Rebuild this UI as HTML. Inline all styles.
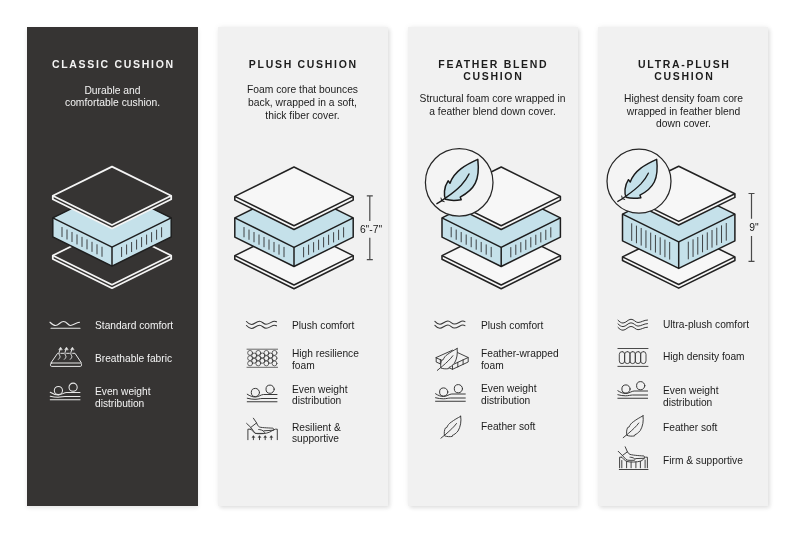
<!DOCTYPE html>
<html><head><meta charset="utf-8">
<style>
html,body{margin:0;padding:0;background:#fff;}
body{width:800px;height:534px;position:relative;overflow:hidden;font-family:"Liberation Sans",sans-serif;}
.p{position:absolute;top:27px;width:171px;height:479px;}
.dark{background:#363433;box-shadow:0 2px 4px rgba(0,0,0,0.10);}
.light{width:170px;background:#f1f1f1;box-shadow:0 0 6px rgba(0,0,0,0.06),2px 2px 4px rgba(0,0,0,0.10);}
.t{position:absolute;width:171px;text-align:center;font-weight:bold;font-size:10.5px;line-height:12px;letter-spacing:1.7px;text-indent:1.7px;white-space:nowrap;}
.d{position:absolute;width:171px;text-align:center;font-size:10.3px;line-height:12.5px;white-space:nowrap;}
.f{position:absolute;font-size:10.2px;line-height:12.5px;white-space:nowrap;}
.m{position:absolute;text-align:center;font-size:10.3px;line-height:12px;color:#1a1a1a;white-space:nowrap;}
svg{position:absolute;left:0;top:0;}
.t,.d,.f,.m{will-change:transform;}
</style></head><body>
<div class="p dark" style="left:27px"></div><div class="p light" style="left:218px"></div><div class="p light" style="left:407.75px"></div><div class="p light" style="left:598px"></div>
<svg width="800" height="534" viewBox="0 0 800 534">
<polygon points="112,226.3 171.2,255.5 171.2,259 112,288.2 52.8,259 52.8,255.5" fill="#363433" stroke="#f5f5f5" stroke-width="1.8" stroke-linejoin="round"/><polyline points="52.8,255.5 112,284.7 171.2,255.5" fill="none" stroke="#f5f5f5" stroke-width="1.8" stroke-linejoin="round"/><polygon points="112,188.7 171.2,217.9 171.2,236.9 112,266.1 52.8,236.9 52.8,217.9" fill="#c5e1ea" stroke="#1e1e1e" stroke-width="1.5" stroke-linejoin="round"/><polyline points="52.8,217.9 112,247.1 171.2,217.9" fill="none" stroke="#1e1e1e" stroke-width="1.5" stroke-linejoin="round"/><line x1="112" y1="247.1" x2="112" y2="266.1" stroke="#1e1e1e" stroke-width="1.5"/><path d="M62 227.04V237.04 M121.6 246.96V256.96 M67 229.5V239.5 M126.6 244.5V254.5 M72 231.97V241.97 M131.6 242.03V252.03 M77 234.44V244.44 M136.6 239.57V249.57 M82 236.9V246.9 M141.6 237.1V247.1 M87 239.37V249.37 M146.6 234.63V244.63 M92 241.84V251.84 M151.6 232.17V242.17 M97 244.3V254.3 M156.6 229.7V239.7 M102 246.77V256.77 M161.6 227.24V237.24" stroke="#3e4244" stroke-width="1" fill="none"/><polygon points="112,166.6 171.2,195.8 171.2,199.3 112,228.5 52.8,199.3 52.8,195.8" fill="#363433" stroke="#f5f5f5" stroke-width="1.8" stroke-linejoin="round"/><polyline points="52.8,195.8 112,225 171.2,195.8" fill="none" stroke="#f5f5f5" stroke-width="1.8" stroke-linejoin="round"/><polygon points="294,226.2 353.2,255.6 353.2,259.3 294,288.7 234.8,259.3 234.8,255.6" fill="#f7f7f7" stroke="#222222" stroke-width="1.55" stroke-linejoin="round"/><polyline points="234.8,255.6 294,285 353.2,255.6" fill="none" stroke="#222222" stroke-width="1.55" stroke-linejoin="round"/><polygon points="294,188.5 353.2,217.9 353.2,237.1 294,266.5 234.8,237.1 234.8,217.9" fill="#c5e1ea" stroke="#1e1e1e" stroke-width="1.5" stroke-linejoin="round"/><polyline points="234.8,217.9 294,247.3 353.2,217.9" fill="none" stroke="#1e1e1e" stroke-width="1.5" stroke-linejoin="round"/><line x1="294" y1="247.3" x2="294" y2="266.5" stroke="#1e1e1e" stroke-width="1.5"/><path d="M244 227.07V237.27 M303.6 247.13V257.33 M249 229.55V239.75 M308.6 244.65V254.85 M254 232.04V242.24 M313.6 242.17V252.37 M259 234.52V244.72 M318.6 239.68V249.88 M264 237V247.2 M323.6 237.2V247.4 M269 239.48V249.68 M328.6 234.72V244.92 M274 241.97V252.17 M333.6 232.23V242.43 M279 244.45V254.65 M338.6 229.75V239.95 M284 246.93V257.13 M343.6 227.27V237.47" stroke="#3e4244" stroke-width="1" fill="none"/><polygon points="294,167 353.2,196.4 353.2,200.1 294,229.5 234.8,200.1 234.8,196.4" fill="#f7f7f7" stroke="#222222" stroke-width="1.55" stroke-linejoin="round"/><polyline points="234.8,196.4 294,225.8 353.2,196.4" fill="none" stroke="#222222" stroke-width="1.55" stroke-linejoin="round"/><path d="M366.8 195.9H372.8M369.8 195.9V220.9M369.8 237.8V259.6M366.8 259.6H372.8" stroke="#4a4a4a" stroke-width="1.2" fill="none"/><polygon points="501.2,226.2 560.4,255.6 560.4,259.3 501.2,288.7 442,259.3 442,255.6" fill="#f7f7f7" stroke="#222222" stroke-width="1.55" stroke-linejoin="round"/><polyline points="442,255.6 501.2,285 560.4,255.6" fill="none" stroke="#222222" stroke-width="1.55" stroke-linejoin="round"/><polygon points="501.2,188.5 560.4,217.9 560.4,237.1 501.2,266.5 442,237.1 442,217.9" fill="#c5e1ea" stroke="#1e1e1e" stroke-width="1.5" stroke-linejoin="round"/><polyline points="442,217.9 501.2,247.3 560.4,217.9" fill="none" stroke="#1e1e1e" stroke-width="1.5" stroke-linejoin="round"/><line x1="501.2" y1="247.3" x2="501.2" y2="266.5" stroke="#1e1e1e" stroke-width="1.5"/><path d="M451.2 227.07V237.27 M510.8 247.13V257.33 M456.2 229.55V239.75 M515.8 244.65V254.85 M461.2 232.04V242.24 M520.8 242.17V252.37 M466.2 234.52V244.72 M525.8 239.68V249.88 M471.2 237V247.2 M530.8 237.2V247.4 M476.2 239.48V249.68 M535.8 234.72V244.92 M481.2 241.97V252.17 M540.8 232.23V242.43 M486.2 244.45V254.65 M545.8 229.75V239.95 M491.2 246.93V257.13 M550.8 227.27V237.47" stroke="#3e4244" stroke-width="1" fill="none"/><polygon points="501.2,167 560.4,196.4 560.4,200.1 501.2,229.5 442,200.1 442,196.4" fill="#f7f7f7" stroke="#222222" stroke-width="1.55" stroke-linejoin="round"/><polyline points="442,196.4 501.2,225.8 560.4,196.4" fill="none" stroke="#222222" stroke-width="1.55" stroke-linejoin="round"/><circle cx="459.2" cy="182.4" r="33.8" fill="#f4f4f4" stroke="#262626" stroke-width="1.25"/><g transform="translate(459.2 182.4) scale(1.0)"><path d="M18.6 -23 C19.5 -15 19 -5 16.1 0.8 C13.5 6 9 10.5 1 14.7 L2 17.4 C-2 18 -9 18.3 -13.6 16.9 C-15.5 13 -15.5 5 -11.1 -1.6 L-9.2 0.8 C-7.5 -4 -3 -10 2 -13.8 C7 -17.5 13 -20.5 18.6 -23 Z" fill="#c5e1ea" stroke="#1a1a1a" stroke-width="1.5" stroke-linejoin="round"/><path d="M-22.3 21.3 C-20 20 -17.5 18.4 -13.5 15.5 C-7 11 -2 7 2 2.8 C5 -0.5 8 -4.5 9.8 -8.4" fill="none" stroke="#1a1a1a" stroke-width="1.4" stroke-linecap="round"/><path d="M-17.5 18.4 L-18.2 15.6 M-17.5 18.4 L-15 19.2" fill="none" stroke="#1a1a1a" stroke-width="1" stroke-linecap="round"/></g><polygon points="678.7,229.3 734.9,256.9 734.9,260.5 678.7,288.1 622.5,260.5 622.5,256.9" fill="#f7f7f7" stroke="#222222" stroke-width="1.55" stroke-linejoin="round"/><polyline points="622.5,256.9 678.7,284.5 734.9,256.9" fill="none" stroke="#222222" stroke-width="1.55" stroke-linejoin="round"/><polygon points="678.7,186.6 734.9,214.2 734.9,240.8 678.7,268.4 622.5,240.8 622.5,214.2" fill="#c5e1ea" stroke="#1e1e1e" stroke-width="1.5" stroke-linejoin="round"/><polyline points="622.5,214.2 678.7,241.8 734.9,214.2" fill="none" stroke="#1e1e1e" stroke-width="1.5" stroke-linejoin="round"/><line x1="678.7" y1="241.8" x2="678.7" y2="268.4" stroke="#1e1e1e" stroke-width="1.5"/><path d="M631.7 223.32V240.92 M688.3 241.69V259.29 M636.45 225.65V243.25 M693.05 239.35V256.95 M641.19 227.98V245.58 M697.79 237.02V254.62 M645.94 230.31V247.91 M702.54 234.69V252.29 M650.69 232.64V250.24 M707.29 232.36V249.96 M655.43 234.97V252.57 M712.03 230.03V247.63 M660.18 237.3V254.9 M716.78 227.7V245.3 M664.93 239.64V257.24 M721.53 225.37V242.97 M669.67 241.97V259.57 M726.27 223.04V240.64" stroke="#3e4244" stroke-width="1" fill="none"/><polygon points="678.7,166.2 734.9,193.8 734.9,197.4 678.7,225 622.5,197.4 622.5,193.8" fill="#f7f7f7" stroke="#222222" stroke-width="1.55" stroke-linejoin="round"/><polyline points="622.5,193.8 678.7,221.4 734.9,193.8" fill="none" stroke="#222222" stroke-width="1.55" stroke-linejoin="round"/><path d="M748.5 193.5H754.5M751.5 193.5V218.7M751.5 235.9V261.3M748.5 261.3H754.5" stroke="#4a4a4a" stroke-width="1.2" fill="none"/><circle cx="639" cy="181.2" r="32" fill="#f4f4f4" stroke="#262626" stroke-width="1.25"/><g transform="translate(639 181.2) scale(0.95)"><path d="M18.6 -23 C19.5 -15 19 -5 16.1 0.8 C13.5 6 9 10.5 1 14.7 L2 17.4 C-2 18 -9 18.3 -13.6 16.9 C-15.5 13 -15.5 5 -11.1 -1.6 L-9.2 0.8 C-7.5 -4 -3 -10 2 -13.8 C7 -17.5 13 -20.5 18.6 -23 Z" fill="#c5e1ea" stroke="#1a1a1a" stroke-width="1.5" stroke-linejoin="round"/><path d="M-22.3 21.3 C-20 20 -17.5 18.4 -13.5 15.5 C-7 11 -2 7 2 2.8 C5 -0.5 8 -4.5 9.8 -8.4" fill="none" stroke="#1a1a1a" stroke-width="1.4" stroke-linecap="round"/><path d="M-17.5 18.4 L-18.2 15.6 M-17.5 18.4 L-15 19.2" fill="none" stroke="#1a1a1a" stroke-width="1" stroke-linecap="round"/></g><g transform="translate(50 321)" fill="none" stroke="#e8e8e8" stroke-width="1.1" stroke-linecap="round" stroke-linejoin="round"><path d="M0 1.25 C2 3.3 3.5 4.5 5.5 4.5 C9 4.5 10 0.5 13.5 0.5 C17 0.5 18 4.5 20.5 4.5 C23 4.5 26 1.7 29.5 1.25"/><path d="M1 7.25 H30"/></g><g transform="translate(50 346)" fill="none" stroke="#e8e8e8" stroke-width="1.0" stroke-linecap="round" stroke-linejoin="round"><rect x="0.5" y="17" width="31" height="3.4" rx="1.2"/><path d="M1 16.8 L7.6 7.3 H8.3 M10.8 7.3 H13.6 M16.6 7.3 H19.4 M22.6 7.3 H25 L31.2 16.6"/><g transform="translate(0 0)"><path d="M8.5 13.3 C9.8 12 10.6 10.8 9.6 9.3 C8.6 7.8 8.8 6.5 10.4 2.8"/><path d="M9 3.4 L10.6 1.2 L12.1 3.6 Z" fill="#e8e8e8" stroke-width="0.6"/></g><g transform="translate(5.9 0)"><path d="M8.5 13.3 C9.8 12 10.6 10.8 9.6 9.3 C8.6 7.8 8.8 6.5 10.4 2.8"/><path d="M9 3.4 L10.6 1.2 L12.1 3.6 Z" fill="#e8e8e8" stroke-width="0.6"/></g><g transform="translate(11.8 0)"><path d="M8.5 13.3 C9.8 12 10.6 10.8 9.6 9.3 C8.6 7.8 8.8 6.5 10.4 2.8"/><path d="M9 3.4 L10.6 1.2 L12.1 3.6 Z" fill="#e8e8e8" stroke-width="0.6"/></g></g><g transform="translate(50 382)" fill="none" stroke="#e8e8e8" stroke-width="1.05" stroke-linecap="round" stroke-linejoin="round"><circle cx="8.4" cy="8.5" r="4.1"/><circle cx="23.1" cy="5.2" r="4.1"/><path d="M0.25 10.25 C3 12 5.5 13 8.25 13 C11.5 13 14 10.5 16.5 10.5 H30"/><path d="M0.25 14.25 C3 15 5.5 15.3 8 15.3 C11 15.3 13 14.5 15 14.5 H30"/><path d="M0.25 17.75 H30"/></g><g transform="translate(246.8 321.5)" fill="none" stroke="#383838" stroke-width="1.1" stroke-linecap="round" stroke-linejoin="round"><path d="M-0.3 0 C1.5 2 3 3 4.7 3 C7.5 3 9.5 -0.25 12.7 -0.25 C15.5 -0.25 16.5 2.75 19.2 2.75 C22.5 2.75 25 -0.25 27.7 -0.25 C28.5 -0.25 29.2 0 29.7 0.3"/><path d="M-0.3 4 C1.5 6 3 7 4.7 7 C7.5 7 9.5 3.75 12.7 3.75 C15.5 3.75 16.5 6.75 19.2 6.75 C22.5 6.75 25 3.75 27.7 3.75 C28.5 3.75 29.2 4 29.7 4.3"/></g><g transform="translate(247 348)" fill="none" stroke="#383838" stroke-width="0.75" stroke-linecap="round" stroke-linejoin="round"><path d="M0 1.2 H30.6 M0 19.3 H30.6"/><circle cx="3.1" cy="4.9" r="2.45"/><circle cx="3.1" cy="10.15" r="2.45"/><circle cx="3.1" cy="15.4" r="2.45"/><circle cx="11.3" cy="4.9" r="2.45"/><circle cx="11.3" cy="10.15" r="2.45"/><circle cx="11.3" cy="15.4" r="2.45"/><circle cx="19.4" cy="4.9" r="2.45"/><circle cx="19.4" cy="10.15" r="2.45"/><circle cx="19.4" cy="15.4" r="2.45"/><circle cx="27.5" cy="4.9" r="2.45"/><circle cx="27.5" cy="10.15" r="2.45"/><circle cx="27.5" cy="15.4" r="2.45"/><circle cx="7.2" cy="7.5" r="2.45"/><circle cx="7.2" cy="12.8" r="2.45"/><circle cx="15.35" cy="7.5" r="2.45"/><circle cx="15.35" cy="12.8" r="2.45"/><circle cx="23.45" cy="7.5" r="2.45"/><circle cx="23.45" cy="12.8" r="2.45"/></g><g transform="translate(247 384)" fill="none" stroke="#383838" stroke-width="1.0" stroke-linecap="round" stroke-linejoin="round"><circle cx="8.4" cy="8.5" r="4.1"/><circle cx="23.1" cy="5.2" r="4.1"/><path d="M0.25 10.25 C3 12 5.5 13 8.25 13 C11.5 13 14 10.5 16.5 10.5 H30"/><path d="M0.25 14.25 C3 15 5.5 15.3 8 15.3 C11 15.3 13 14.5 15 14.5 H30"/><path d="M0.25 17.75 H30"/></g><g transform="translate(246 417)" fill="none" stroke="#383838" stroke-width="0.95" stroke-linecap="round" stroke-linejoin="round"><path d="M0.6 6.4 L4.8 10.4 L8 14.8 C8.5 16 9 16.4 10 16.4 H17.4 C18.5 16.4 18.8 15.4 18.2 15 C17 13 14 12.5 12.7 12.5"/><path d="M7.4 1.2 L10.6 5.9 C11 7 12 9.5 13.7 10.1 C16 10.8 25 11 26.8 11.2 C28 11.7 28 13 27.5 13.2 L17.9 13.8"/><path d="M4.8 10.4 L10.6 5.9"/><path d="M1.9 22.7 V12.2 H4.3 M27.1 13.2 L29.4 12.2 H31.3 V22.7"/><path d="M4.3 12.2 C6 12.5 7 14.5 8.5 15.8 C10 16.8 12 16.8 17.4 16.6 C22 16.3 25 14.5 27.1 13.2"/><path d="M7.4 22.7 V19.8"/><path d="M6.2 20.2 L7.4 18.6 L8.6 20.2 Z" fill="#383838" stroke-width="0.5"/><path d="M13.5 22.7 V19.8"/><path d="M12.3 20.2 L13.5 18.6 L14.7 20.2 Z" fill="#383838" stroke-width="0.5"/><path d="M19.2 22.7 V19.8"/><path d="M18.0 20.2 L19.2 18.6 L20.4 20.2 Z" fill="#383838" stroke-width="0.5"/><path d="M25.3 22.7 V19.8"/><path d="M24.1 20.2 L25.3 18.6 L26.5 20.2 Z" fill="#383838" stroke-width="0.5"/></g><g transform="translate(435.2 321.3)" fill="none" stroke="#383838" stroke-width="1.1" stroke-linecap="round" stroke-linejoin="round"><path d="M-0.3 0 C1.5 2 3 3 4.7 3 C7.5 3 9.5 -0.25 12.7 -0.25 C15.5 -0.25 16.5 2.75 19.2 2.75 C22.5 2.75 25 -0.25 27.7 -0.25 C28.5 -0.25 29.2 0 29.7 0.3"/><path d="M-0.3 4 C1.5 6 3 7 4.7 7 C7.5 7 9.5 3.75 12.7 3.75 C15.5 3.75 16.5 6.75 19.2 6.75 C22.5 6.75 25 3.75 27.7 3.75 C28.5 3.75 29.2 4 29.7 4.3"/></g><g transform="translate(0 0)" fill="none" stroke="#383838" stroke-width="0.95" stroke-linecap="round" stroke-linejoin="round"><path d="M436.2 357.5 L452.5 350.2 L468.2 357.5 L452.5 364.8 Z" fill="#f1f1f1"/><path d="M436.2 357.5 V362 L452.5 369.3 L468.2 362 V357.5 M452.5 364.8 V369.3 M440.4 359.4 V363.9 M457.8 362.3 V367 M463.1 359.8 V364.5"/></g><g transform="translate(436.4 347.2)" fill="none" stroke="#383838" stroke-width="0.95" stroke-linecap="round" stroke-linejoin="round"><path d="M20.7 1.3 C21.5 6 20.5 12 18 16 C16 18.5 14 19.8 12.6 20.2 L12.3 21.4 C10 21.8 7 21.8 4.5 20.8 C4 18 4.3 15 5.4 13 L6.9 12.4 C7.5 10.5 9 8.5 11.4 7 C14 5 17.5 3 20.7 1.3 Z" fill="#f1f1f1"/><path d="M0.9 23.2 L6 19 C10 15.5 14 12 16.5 8.5"/></g><g transform="translate(435.3 383.5)" fill="none" stroke="#383838" stroke-width="1.0" stroke-linecap="round" stroke-linejoin="round"><circle cx="8.4" cy="8.5" r="4.1"/><circle cx="23.1" cy="5.2" r="4.1"/><path d="M0.25 10.25 C3 12 5.5 13 8.25 13 C11.5 13 14 10.5 16.5 10.5 H30"/><path d="M0.25 14.25 C3 15 5.5 15.3 8 15.3 C11 15.3 13 14.5 15 14.5 H30"/><path d="M0.25 17.75 H30"/></g><g transform="translate(440 415)" fill="none" stroke="#383838" stroke-width="0.95" stroke-linecap="round" stroke-linejoin="round"><path d="M20.7 1.3 C21.5 6 20.5 12 18 16 C16 18.5 14 19.8 12.6 20.2 L12.3 21.4 C10 21.8 7 21.8 4.5 20.8 C4 18 4.3 15 5.4 13 L6.9 12.4 C7.5 10.5 9 8.5 11.4 7 C14 5 17.5 3 20.7 1.3 Z"/><path d="M0.9 23.2 L6 19 C10 15.5 14 12 16.5 8.5"/></g><g transform="translate(617 318)" fill="none" stroke="#383838" stroke-width="1.0" stroke-linecap="round" stroke-linejoin="round"><path d="M1 2.25 C2.5 3.8 4 5 6 5 C9 5 11 1.25 14 1.25 C17 1.25 18.5 4.5 21 4.5 C24 4.5 27 2 30.5 2"/><path d="M1 5.85 C2.5 7.4 4 8.6 6 8.6 C9 8.6 11 4.85 14 4.85 C17 4.85 18.5 8.1 21 8.1 C24 8.1 27 5.6 30.5 5.6"/><path d="M1 9.45 C2.5 11.0 4 12.2 6 12.2 C9 12.2 11 8.45 14 8.45 C17 8.45 18.5 11.7 21 11.7 C24 11.7 27 9.2 30.5 9.2"/></g><g transform="translate(617 347)" fill="none" stroke="#383838" stroke-width="0.9" stroke-linecap="round" stroke-linejoin="round"><path d="M0.9 1.5 H31 M0.9 19.4 H31"/><rect x="2.30" y="4.6" width="5.34" height="12" rx="2.67"/><rect x="7.64" y="4.6" width="5.34" height="12" rx="2.67"/><rect x="12.98" y="4.6" width="5.34" height="12" rx="2.67"/><rect x="18.32" y="4.6" width="5.34" height="12" rx="2.67"/><rect x="23.66" y="4.6" width="5.34" height="12" rx="2.67"/></g><g transform="translate(617.6 380.5)" fill="none" stroke="#383838" stroke-width="1.0" stroke-linecap="round" stroke-linejoin="round"><circle cx="8.4" cy="8.5" r="4.1"/><circle cx="23.1" cy="5.2" r="4.1"/><path d="M0.25 10.25 C3 12 5.5 13 8.25 13 C11.5 13 14 10.5 16.5 10.5 H30"/><path d="M0.25 14.25 C3 15 5.5 15.3 8 15.3 C11 15.3 13 14.5 15 14.5 H30"/><path d="M0.25 17.75 H30"/></g><g transform="translate(622.3 414.5)" fill="none" stroke="#383838" stroke-width="0.95" stroke-linecap="round" stroke-linejoin="round"><path d="M20.7 1.3 C21.5 6 20.5 12 18 16 C16 18.5 14 19.8 12.6 20.2 L12.3 21.4 C10 21.8 7 21.8 4.5 20.8 C4 18 4.3 15 5.4 13 L6.9 12.4 C7.5 10.5 9 8.5 11.4 7 C14 5 17.5 3 20.7 1.3 Z"/><path d="M0.9 23.2 L6 19 C10 15.5 14 12 16.5 8.5"/></g><g transform="translate(617 445)" fill="none" stroke="#383838" stroke-width="0.95" stroke-linecap="round" stroke-linejoin="round"><path d="M1.2 6.3 L5.4 10.5 L9 14.4 C10 15.2 11 15.3 12 15.3 H17.5 C18 15 18 13.8 17.5 13.6 C16 12.5 14 12.2 13 12.2"/><path d="M8.2 1.8 L10.4 6.8 C11 8 12 9 13 9.4 C17 10.5 25 10.8 27 11 C28 11.8 27.5 13 26.5 13.3 L18.6 13.6"/><path d="M5.4 10.5 L10.4 6.8"/><path d="M2.6 22.8 V12.2 H4.5 M27 13.3 L28.5 12.2 H30.4 V22.8 M2.3 24.5 H31"/><path d="M4.5 12.2 C6 13 7.5 15.5 10 16.5 C13 17.3 20 17.3 24 16 C26 15 27 13.8 27 13.3"/><path d="M4.8 15.5 V22.8"/><path d="M9.6 16.5 V22.8"/><path d="M14.1 17 V22.8"/><path d="M18.9 17 V22.8"/><path d="M23.4 16.5 V22.8"/><path d="M28.1 15 V22.8"/></g>
</svg>
<div class="t" style="left:26.8px;top:58px;color:#f4f4f4">CLASSIC CUSHION</div><div class="d" style="left:26.8px;top:84.5px;color:#f4f4f4">Durable and</div><div class="d" style="left:26.8px;top:97px;color:#f4f4f4">comfortable cushion.</div><div class="t" style="left:217.2px;top:58px;color:#1c1c1c">PLUSH CUSHION</div><div class="d" style="left:217.2px;top:84.3px;color:#1c1c1c">Foam core that bounces</div><div class="d" style="left:217.2px;top:96.9px;color:#1c1c1c">back, wrapped in a soft,</div><div class="d" style="left:217.2px;top:109.5px;color:#1c1c1c">thick fiber cover.</div><div class="t" style="left:407.3px;top:58px;color:#1c1c1c">FEATHER BLEND</div><div class="t" style="left:407.3px;top:70.4px;color:#1c1c1c">CUSHION</div><div class="d" style="left:407.3px;top:92.9px;color:#1c1c1c">Structural foam core wrapped in</div><div class="d" style="left:407.3px;top:105.7px;color:#1c1c1c">a feather blend down cover.</div><div class="t" style="left:597.5px;top:58px;color:#1c1c1c">ULTRA-PLUSH</div><div class="t" style="left:597.5px;top:70.4px;color:#1c1c1c">CUSHION</div><div class="d" style="left:597.5px;top:92.9px;color:#1c1c1c">Highest density foam core</div><div class="d" style="left:597.5px;top:105.5px;color:#1c1c1c">wrapped in feather blend</div><div class="d" style="left:597.5px;top:118.1px;color:#1c1c1c">down cover.</div><div class="f" style="left:95.4px;top:320px;color:#f4f4f4">Standard comfort</div><div class="f" style="left:95.4px;top:353px;color:#f4f4f4">Breathable fabric</div><div class="f" style="left:95.4px;top:386px;color:#f4f4f4">Even weight</div><div class="f" style="left:95.4px;top:397.8px;color:#f4f4f4">distribution</div><div class="f" style="left:292.2px;top:319.9px;color:#1c1c1c">Plush comfort</div><div class="f" style="left:292.2px;top:347.7px;color:#1c1c1c">High resilience</div><div class="f" style="left:292.2px;top:359.5px;color:#1c1c1c">foam</div><div class="f" style="left:292.2px;top:383.6px;color:#1c1c1c">Even weight</div><div class="f" style="left:292.2px;top:395.4px;color:#1c1c1c">distribution</div><div class="f" style="left:292.2px;top:421.6px;color:#1c1c1c">Resilient &amp;</div><div class="f" style="left:292.2px;top:433.4px;color:#1c1c1c">supportive</div><div class="f" style="left:480.6px;top:319.9px;color:#1c1c1c">Plush comfort</div><div class="f" style="left:480.6px;top:347.7px;color:#1c1c1c">Feather-wrapped</div><div class="f" style="left:480.6px;top:359.5px;color:#1c1c1c">foam</div><div class="f" style="left:480.6px;top:383px;color:#1c1c1c">Even weight</div><div class="f" style="left:480.6px;top:394.8px;color:#1c1c1c">distribution</div><div class="f" style="left:480.6px;top:421px;color:#1c1c1c">Feather soft</div><div class="f" style="left:662.8px;top:318.6px;color:#1c1c1c">Ultra-plush comfort</div><div class="f" style="left:662.8px;top:351.3px;color:#1c1c1c">High density foam</div><div class="f" style="left:662.8px;top:384.9px;color:#1c1c1c">Even weight</div><div class="f" style="left:662.8px;top:396.7px;color:#1c1c1c">distribution</div><div class="f" style="left:662.8px;top:422.3px;color:#1c1c1c">Feather soft</div><div class="f" style="left:662.8px;top:455.2px;color:#1c1c1c">Firm &amp; supportive</div><div class="m" style="left:350px;width:42px;top:223.9px;">6&quot;-7&quot;</div><div class="m" style="left:732.5px;width:42px;top:222px;">9&quot;</div>
</body></html>
